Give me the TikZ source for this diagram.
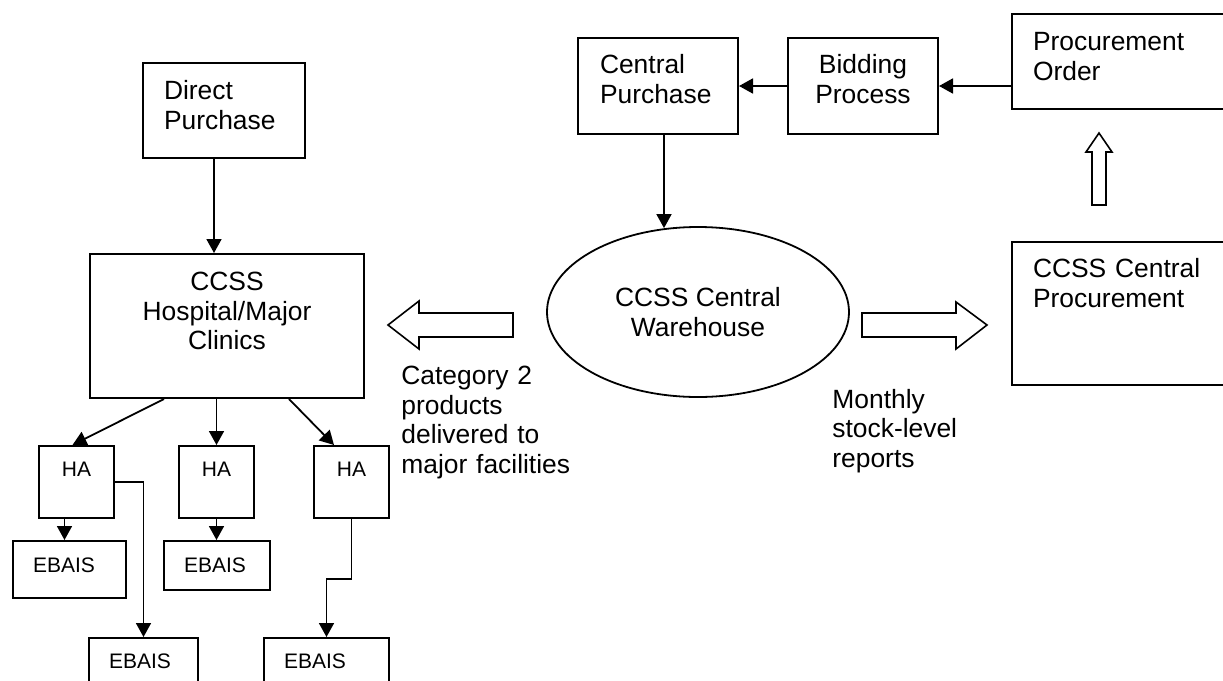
\documentclass[tikz,border=0pt]{standalone}
\usepackage{fontspec}
\setmainfont{Liberation Sans}
\usetikzlibrary{arrows.meta,shapes.geometric}

\begin{document}
\begin{tikzpicture}[x=0.5pt,y=-0.5pt,
    box/.style={draw,line width=1pt,anchor=north west,inner ysep=0pt,
        font=\fontsize{13.2}{14.8}\selectfont},
    smallbox/.style={box,font=\fontsize{10.5}{12}\selectfont},
    arr/.style={line width=0.9pt,-{Triangle[length=7pt,width=7.5pt]}},
    hollow/.style={draw,line width=0.8pt,fill=white},
    note/.style={anchor=base west,align=left,inner sep=0pt,
        font=\fontsize{13.2}{14.8}\selectfont}]

\useasboundingbox (0,0) rectangle (1223,681);

% left side
\node[box,align=left,inner xsep=10.5pt,text width=60pt,text height=18.25pt,text depth=29.25pt] (dp) at (142,62) {Direct\\Purchase};
\node[box,align=center,inner xsep=5pt,text width=127pt,text height=18.25pt,text depth=53.75pt] (hosp) at (89,253) {CCSS\\Hospital/Major\\Clinics};

\node[smallbox,align=center,inner xsep=2pt,text width=33.5pt,text height=15.25pt,text depth=20.75pt] (ha1) at (38,445) {HA};
\node[smallbox,align=center,inner xsep=2pt,text width=33.5pt,text height=15.25pt,text depth=20.75pt] (ha2) at (178,445) {HA};
\node[smallbox,align=center,inner xsep=2pt,text width=33.5pt,text height=15.25pt,text depth=20.75pt] (ha3) at (313,445) {HA};

\node[smallbox,align=left,inner xsep=10pt,text width=36.5pt,text height=15.75pt,text depth=12.75pt] (eb1) at (12,540) {EBAIS};
\node[smallbox,align=left,inner xsep=10pt,text width=33pt,text height=15.5pt,text depth=9pt] (eb2) at (163,540) {EBAIS};
\node[smallbox,align=left,inner xsep=10pt,text width=34.5pt,text height=15.25pt,text depth=14.75pt] (eb3) at (88,637) {EBAIS};
\node[smallbox,align=left,inner xsep=10pt,text width=42.5pt,text height=15.25pt,text depth=14.75pt] (eb4) at (263,637) {EBAIS};

% warehouse and central side
\node[draw,ellipse,line width=0.9pt,minimum width=151pt,minimum height=85pt,inner sep=0pt,align=center,
    font=\fontsize{13.2}{14.8}\selectfont] (wh) at (698,312) {CCSS Central\\Warehouse};

\node[box,align=left,inner xsep=11pt,text width=58pt,text height=17.75pt,text depth=30.25pt] (cp) at (577,37) {Central\\Purchase};
\node[box,align=center,inner xsep=5pt,text width=65pt,text height=17.75pt,text depth=30.25pt] (bid) at (787,37) {Bidding\\Process};
\node[box,align=left,inner xsep=10.5pt,text width=96pt,text height=18.25pt,text depth=29.25pt] (po) at (1011,13) {Procurement\\Order};
\node[box,align=left,inner xsep=10.5pt,text width=96pt,text height=17.75pt,text depth=53.75pt] (cproc) at (1011,241) {CCSS Central\\Procurement};

\node[note,text width=100pt] (cat) at (401,384.5) {Category 2\\products\\delivered to\\major facilities};
\node[note,text width=80pt] (mon) at (832,408) {Monthly\\stock-level\\reports};

% connectors
\draw[arr] ([xshift=-5pt]dp.south) -- ([xshift=-5pt]dp.south |- hosp.north);
\draw[arr] ([xshift=-31.5pt]hosp.south) -- ([xshift=-2pt]ha1.north);
\draw[arr] (ha2.north |- hosp.south) -- (ha2.north);
\draw[arr] ([xshift=31pt]hosp.south) -- ([xshift=-8.75pt]ha3.north);
\draw[arr] ([xshift=-6pt]ha1.south) -- ([xshift=-6pt]ha1.south |- eb1.north);
\draw[arr] (ha2.south) -- (ha2.south |- eb2.north);
\draw[arr] (ha1.east) -| (eb3.north);
\draw[arr] (ha3.south) -- ++(0,-30pt) -| (eb4.north);

\draw[arr] ([xshift=3pt]cp.south) -- ([xshift=3pt,yshift=-1pt]cp.south |- wh.north);
\draw[arr] (bid.west) -- (cp.east);
\draw[arr] (bid.east -| po.west) -- (bid.east);

% block arrows
\draw[hollow] (388,325) -- (419,301) -- (419,313) -- (513,313) -- (513,337) -- (419,337) -- (419,349) -- cycle;
\draw[hollow] (987,325) -- (956,302) -- (956,313) -- (862,313) -- (862,337) -- (956,337) -- (956,349) -- cycle;
\draw[hollow] (1099,133) -- (1112,152) -- (1106,152) -- (1106,205) -- (1092,205) -- (1092,152) -- (1086,152) -- cycle;

\end{tikzpicture}
\end{document}
